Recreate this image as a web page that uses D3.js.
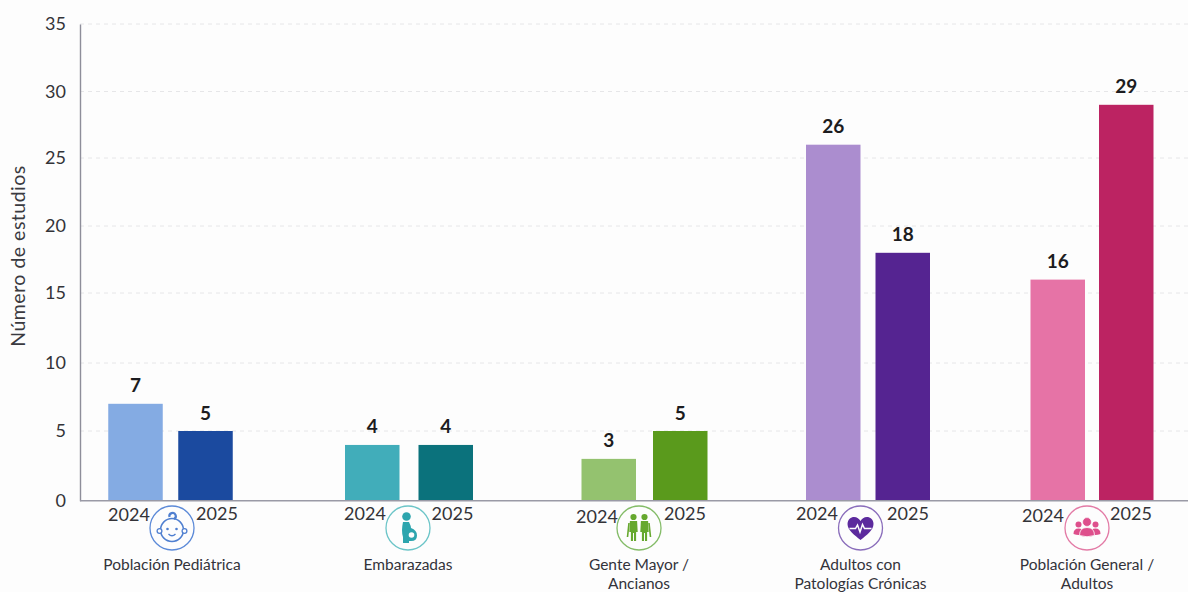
<!DOCTYPE html>
<html lang="es">
<head>
<meta charset="utf-8">
<title>Número de estudios por población</title>
<script src="https://cdn.jsdelivr.net/npm/d3@7/dist/d3.min.js"></script>
<style>
html,body{margin:0;padding:0;background:#fdfdfd;overflow:hidden}
svg{display:block}
text{font-family:Lato,"Open Sans",sans-serif}
</style>
</head>
<body>
<svg id="chart" width="1188" height="592"></svg>
<script>
// ---- data ----
const categories = ["Población Pediátrica","Embarazadas","Gente Mayor / Ancianos","Adultos con Patologías Crónicas","Población General / Adultos"];
const categoryLines = [["Población Pediátrica"],["Embarazadas"],["Gente Mayor /","Ancianos"],["Adultos con","Patologías Crónicas"],["Población General /","Adultos"]];
const years = ["2024","2025"];
const values2024 = [7,4,3,26,16];
const values2025 = [5,4,5,18,29];
const yTicks = [0,5,10,15,20,25,30,35];
const yTitle = "Número de estudios";

// ---- styling ----
const colors2024 = ["#84ABE3","#41ADBA","#94C26F","#AB8DCF","#E673A6"];
const colors2025 = ["#1B4A9F","#0B727C","#5A9A1C","#552491","#BC2362"];
const ringColors = ["#5C8AD8","#6CC5C8","#84BC68","#8A6DBB","#E37BA6"];
const iconColors = ["#4F7FD0","#2DA5AE","#66A82E","#5C2A9D","#DE4F8C"];

// ---- layout ----
const tickPixels = [500.7,431,363,293,226,158,91.5,24];
const axisX = 80, axisRight = 1188;
const groupCentres = [170.5,409,644.5,868,1092];
const barGaps = [15.5,19,17,15,14];
const barWidth = 54.5;
const iconCentres = [172,408,639,860.5,1087];
const iconY = 528, iconR = 22;
const yearCentres2024 = [129,365,597,817,1043];
const yearCentres2025 = [217,452.5,685,908,1131];
const yearBase2024 = [521,520,523,520,522];
const yearBase2025 = [520,520,520,520,520];

const svg = d3.select("#chart");
const y = d3.scaleLinear().domain(yTicks).range(tickPixels);
const centre = d3.scaleOrdinal().domain(categories).range(groupCentres);
const gap = d3.scaleOrdinal().domain(categories).range(barGaps);
const icon = d3.scaleOrdinal().domain(categories).range(iconCentres);
const inner = c => {
  const g = gap(c), m = centre(c);
  return d3.scaleBand().domain(years).range([m-barWidth-g/2, m+barWidth+g/2]).paddingInner(g/(barWidth+g)).paddingOuter(0);
};

// gridlines
svg.append("g").selectAll("line").data(yTicks.filter(t=>t>0)).join("line")
  .attr("x1",axisX).attr("x2",axisRight).attr("y1",y).attr("y2",y)
  .attr("stroke","#e6e6e8").attr("stroke-width",1).attr("stroke-dasharray","4 4");

// y axis
const gy = svg.append("g").attr("transform",`translate(${axisX},0)`)
  .call(d3.axisLeft(y).tickValues(yTicks).tickSize(0).tickPadding(14));
gy.select(".domain").attr("stroke","#8e8e9a").attr("stroke-width",1.4);
gy.selectAll("text").attr("font-size",18).attr("fill","#333338").style("font-family","Lato,sans-serif");

svg.append("text").attr("transform","translate(25,256) rotate(-90)")
  .attr("text-anchor","middle").attr("font-size",19.5).attr("letter-spacing",0.5).attr("fill","#3a3a40").text(yTitle);

// bars
const rows = categories.flatMap((c,i)=>[
  {c,i,year:years[0],v:values2024[i],fill:colors2024[i]},
  {c,i,year:years[1],v:values2025[i],fill:colors2025[i]}
]);
svg.append("g").selectAll("rect").data(rows).join("rect")
  .attr("x",d=>inner(d.c)(d.year)).attr("width",d=>inner(d.c).bandwidth())
  .attr("y",d=>y(d.v)).attr("height",d=>y(0)-y(d.v)).attr("fill",d=>d.fill);

// x baseline
svg.append("line").attr("x1",axisX).attr("x2",axisRight).attr("y1",y(0)).attr("y2",y(0))
  .attr("stroke","#9a9aa6").attr("stroke-width",1.4);

// value labels
svg.append("g").selectAll("text").data(rows).join("text")
  .attr("x",d=>inner(d.c)(d.year)+inner(d.c).bandwidth()/2).attr("y",d=>y(d.v)-11.5)
  .attr("text-anchor","middle").attr("font-size",19).attr("font-weight",700).attr("fill","#1c1c20").text(d=>d.v);

// year labels
svg.append("g").selectAll("text").data(rows).join("text")
  .attr("x",d=>(d.year===years[0]?yearCentres2024:yearCentres2025)[d.i])
  .attr("y",d=>(d.year===years[0]?yearBase2024:yearBase2025)[d.i])
  .attr("text-anchor","middle").attr("font-size",18).attr("fill","#333338").text(d=>d.year);

// category labels
const lab = svg.append("g").selectAll("text").data(categories).join("text")
  .attr("text-anchor","middle").attr("font-size",15.5).attr("fill","#33333a");
lab.each(function(c,i){
  d3.select(this).selectAll("tspan").data(categoryLines[i]).join("tspan")
    .attr("x",icon(c)).attr("y",(l,k)=>569.5+k*19).text(l=>l);
});

// icons
const drawers = [
 (g,col)=>{ // baby
  g.append("circle").attr("r",11.5).attr("cy",2).attr("fill","none").attr("stroke",col).attr("stroke-width",1.5);
  g.append("circle").attr("cx",-12.5).attr("cy",3).attr("r",2.4).attr("fill","#fdfdfd").attr("stroke",col).attr("stroke-width",1.3);
  g.append("circle").attr("cx",12.5).attr("cy",3).attr("r",2.4).attr("fill","#fdfdfd").attr("stroke",col).attr("stroke-width",1.3);
  g.append("path").attr("d","M-2.5,-11 a3.2,3.2 0 1 1 4.5,2").attr("fill","none").attr("stroke",col).attr("stroke-width",2.2);
  g.append("circle").attr("cx",-4.5).attr("cy",1).attr("r",1.3).attr("fill",col);
  g.append("circle").attr("cx",4.5).attr("cy",1).attr("r",1.3).attr("fill",col);
  g.append("path").attr("d","M-3.5,6 q3.5,3.5 7,0").attr("fill","none").attr("stroke",col).attr("stroke-width",1.4);
 },
 (g,col)=>{ // pregnant
  g.append("circle").attr("cx",-1.5).attr("cy",-11.5).attr("r",4.3).attr("fill",col);
  g.append("path").attr("d","M-5,-6 L1,-6 Q3,-2 3,0 Q9,2 9,7.5 Q9,13 3,13 L1,13 L1,15 L-5,15 L-5,9 Q-7,3 -5,-6 Z").attr("fill",col);
  g.append("circle").attr("cx",3.5).attr("cy",7).attr("r",2.8).attr("fill","#fdfdfd");
 },
 (g,col)=>{ // elders
  [-5.5,5.5].forEach(dx=>{
    const s = g.append("g").attr("transform",`translate(${dx},0)`);
    s.append("circle").attr("cy",-11).attr("r",3.1).attr("fill",col);
    s.append("path").attr("d","M-3.6,-7 H3.6 L4.2,4 H2.6 V13 H0.5 V5 H-0.5 V13 H-2.6 V4 H-4.2 Z").attr("fill",col);
  });
  g.append("path").attr("d","M-10,-5 L-11.5,9 M10,-5 L11.5,9").attr("stroke",col).attr("stroke-width",1.6).attr("fill","none");
 },
 (g,col)=>{ // heart + pulse
  g.append("path").attr("d","M0,12 C-6,7 -13,2.5 -13,-4 C-13,-8.5 -9.5,-11 -6.5,-11 C-3.5,-11 -1.2,-9 0,-7 C1.2,-9 3.5,-11 6.5,-11 C9.5,-11 13,-8.5 13,-4 C13,2.5 6,7 0,12 Z").attr("fill",col);
  g.append("path").attr("d","M-11,0.5 H-5 L-3,-3 L-0.5,4 L2,-3.5 L4,0.5 H11").attr("fill","none").attr("stroke","#fdfdfd").attr("stroke-width",1.5);
 },
 (g,col)=>{ // people
  g.append("circle").attr("cx",-8.5).attr("cy",-3.5).attr("r",3).attr("fill",col);
  g.append("circle").attr("cx",8.5).attr("cy",-3.5).attr("r",3).attr("fill",col);
  g.append("path").attr("d","M-13.5,6 Q-13.5,0.5 -8.5,0.5 Q-3.5,0.5 -3.5,6 Q-8,8 -13.5,6 Z M13.5,6 Q13.5,0.5 8.5,0.5 Q3.5,0.5 3.5,6 Q8,8 13.5,6 Z").attr("fill",col);
  g.append("circle").attr("cy",-6).attr("r",4.4).attr("fill",col).attr("stroke","#fdfdfd").attr("stroke-width",0.6);
  g.append("path").attr("d","M-7.5,7.5 Q-7.5,-0.5 0,-0.5 Q7.5,-0.5 7.5,7.5 Q0,10 -7.5,7.5 Z").attr("fill",col).attr("stroke","#fdfdfd").attr("stroke-width",0.8);
 }
];
categories.forEach((c,i)=>{
  const g = svg.append("g").attr("transform",`translate(${icon(c)},${iconY})`);
  g.append("circle").attr("r",iconR).attr("fill","#fdfdfd").attr("stroke",ringColors[i]).attr("stroke-width",1.3);
  drawers[i](g,iconColors[i]);
});
</script>
</body>
</html>
